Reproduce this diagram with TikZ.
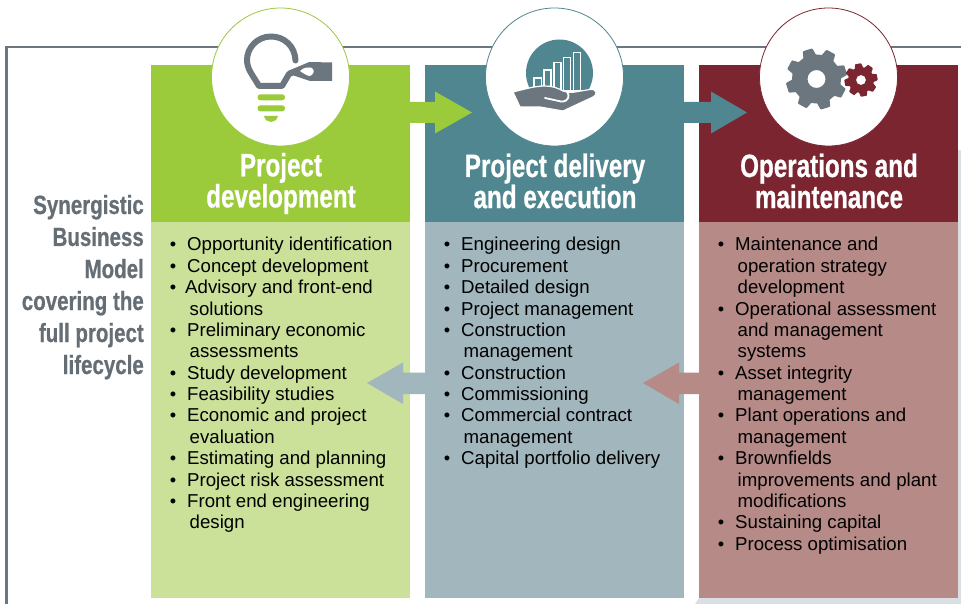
\documentclass[tikz,border=0pt]{standalone}
\usepackage{fontspec}
\setmainfont{Liberation Sans}
\newfontfamily\condfont{Liberation Sans Bold}[FakeStretch=0.75,FakeBold=0.6]
\newfontfamily\sidefont{Liberation Sans Bold}[FakeStretch=0.78,FakeBold=0.5]
\definecolor{cgreen}{HTML}{9BCA3B}
\definecolor{cteal}{HTML}{508690}
\definecolor{cmaroon}{HTML}{7B2530}
\definecolor{lgreen}{HTML}{CBE098}
\definecolor{lteal}{HTML}{A2B6BD}
\definecolor{lmaroon}{HTML}{B58A87}
\definecolor{cgrey}{HTML}{6C767E}
\definecolor{txtgrey}{HTML}{666E75}
\definecolor{strip}{HTML}{D9DFE2}
\tikzset{
 head/.style={fill=#1,draw=none,minimum width=259,minimum height=157,anchor=north west,inner sep=0},
 body/.style={fill=#1,draw=none,minimum width=259,minimum height=376,anchor=north west,inner sep=0},
 ring/.style={circle,fill=white,draw=#1,line width=.8,minimum size=138,inner sep=0},
 title/.style={text=white,font=\condfont\fontsize{32.3}{29}\selectfont,align=center,anchor=center},
 li/.style={anchor=base west,inner sep=0,font=\fontsize{18.65}{20}\selectfont,text=black},
 dot/.style={anchor=base,inner sep=0,font=\fontsize{18.2}{20}\selectfont,text=black},
 side/.style={anchor=base east,inner sep=0,text=txtgrey,font=\sidefont\fontsize{26.3}{30}\selectfont},
}
\newcommand{\bul}[3]{\node[dot] at (#1+3,#2) {•};\node[li] at (#1+17,#2) {#3};}
\newcommand{\cont}[3]{\node[li] at (#1+19.5,#2) {#3};}
\begin{document}
\begin{tikzpicture}[x=1pt,y=-1pt]
\useasboundingbox (0,0) rectangle (961,604);
\fill[white] (0,0) rectangle (961,604);
% frame
\draw[cgrey,line width=2.8] (6.5,604) -- (6.5,47) -- (961,47);
\fill[strip] (695,604) -- (699,598) -- (961,598) -- (961,604) -- cycle;
\fill[strip] (958,150) rectangle (961,598);
% panels
\node[head=cgreen] (h1) at (151,65) {};
\node[head=cteal] (h2) at (425,65) {};
\node[head=cmaroon] (h3) at (699,65) {};
\node[body=lgreen] (b1) at (151,222) {};
\node[body=lteal] (b2) at (425,222) {};
\node[body=lmaroon] (b3) at (699,222) {};
% arrows
\fill[cgreen] (410,102) -- (435,102) -- (435,91.5) -- (472,112.5) -- (435,133.5) -- (435,123) -- (410,123) -- cycle;
\fill[cteal] (684,102) -- (711,102) -- (711,91.5) -- (747,112.5) -- (711,133.5) -- (711,123) -- (684,123) -- cycle;
\fill[lteal] (425,372.5) -- (403,372.5) -- (403,362.5) -- (367,383) -- (403,404) -- (403,394) -- (425,394) -- cycle;
\fill[lmaroon] (699,372.5) -- (679,372.5) -- (679,362.5) -- (643,383) -- (679,404) -- (679,394) -- (699,394) -- cycle;
% circles
\node[ring=cgreen] (c1) at (280.5,77) {};
\node[ring=cteal] (c2) at (554.5,77) {};
\node[ring=cmaroon] (c3) at (828.5,77) {};
% bulb icon
\draw[cgrey,line width=6,line cap=round,line join=round] (295.5,60.5) .. controls (295,46) and (284,36.5) .. (271,36.5) .. controls (257,36.5) and (247,48) .. (247,60) .. controls (247,69) and (252,74) .. (259,86) -- (282,86) -- (289,74) -- (310,65);
\fill[cgrey] (288,71) -- (310,62) -- (332,62.5) -- (332,81) -- (310,81) -- (292,75) -- cycle;
\fill[white] (300,71) .. controls (304,67) and (309,67) .. (312,68) .. controls (315,71) and (314,74) .. (310,76) .. controls (307,76) and (303,73) .. (300,71) -- cycle;
\fill[cgreen,rounded corners=2.8] (257.5,94.3) rectangle (285,100.3);
\fill[cgreen,rounded corners=2.8] (257.5,105.3) rectangle (285,111.3);
\fill[cgreen] (264,116) -- (278,116) .. controls (277,120) and (274,122) .. (271,122) .. controls (268,122) and (265,120) .. (264,116) -- cycle;
% hand icon
\fill[cteal] (559.5,73) circle (33.5);
\foreach \xa/\ya/\xb in {534/78/541.5, 544/70/551, 554/62.5/561, 563.5/57.5/570.5, 573.5/52.5/580.5}{
 \draw[white,line width=1.5,fill=cteal] (\xa,91) rectangle (\xb,\ya);
}
\fill[white] (520,90) rectangle (600,115);
\draw[white,line width=1.2,fill=cgrey,line join=round] (513,92) .. controls (525,89) and (535,86) .. (545,86) .. controls (552,86) and (558,88) .. (563,91) .. controls (567,92) and (570,93) .. (575,92) -- (590,89.5) .. controls (597,88.5) and (598,95) .. (593,97) -- (563,111) -- (540,107) -- (520,107) -- cycle;
\draw[white,line width=1.8,line cap=round] (545,98) -- (561,101.5) .. controls (569,102) and (570,95) .. (567,92);
% gears
\foreach \a in {0,45,...,315}{\fill[cgrey,rounded corners=.8,rotate around={\a+17:(816.5,79)}] (811.5,48.5) -- (821.5,48.5) -- (824,60) -- (809,60) -- cycle;}
\fill[cgrey,even odd rule] (816.5,79) circle (24.5) circle (9);
\foreach \a in {0,45,...,315}{\fill[cmaroon,rounded corners=.6,rotate around={\a+10:(861,80)}] (858,63.5) -- (864,63.5) -- (866,71) -- (856,71) -- cycle;}
\fill[cmaroon,even odd rule] (861,80) circle (13) circle (5);
% titles
\node[title] (t1) at (281,183.5) {Project\\development};
\node[title] (t2) at (555,181) {Project delivery\\and execution};
\node[title] (t3) at (829,181) {Operations and\\maintenance};
% side
\node[side] at (144,214) {Synergistic};
\node[side] at (144,246) {Business};
\node[side] at (144,278) {Model};
\node[side] at (144,310) {covering the};
\node[side] at (144,342) {full project};
\node[side] at (144,374) {lifecycle};
% list 1
\bul{170}{251}{Opportunity identification}
\bul{170}{272}{Concept development}
\node[dot] at (173,293.5) {•};\node[li] at (185,293.5) {Advisory and front-end};
\cont{170}{315}{solutions}
\bul{170}{336.5}{Preliminary economic}
\cont{170}{357}{assessments}
\bul{170}{379}{Study development}
\bul{170}{400}{Feasibility studies}
\bul{170}{421.5}{Economic and project}
\cont{170}{443}{evaluation}
\bul{170}{464}{Estimating and planning}
\bul{170}{486}{Project risk assessment}
\bul{170}{507}{Front end engineering}
\cont{170}{528}{design}
% list 2
\bul{444}{251}{Engineering design}
\bul{444}{272}{Procurement}
\bul{444}{293.5}{Detailed design}
\bul{444}{315}{Project management}
\bul{444}{336.5}{Construction}
\cont{444}{357}{management}
\bul{444}{379}{Construction}
\bul{444}{400}{Commissioning}
\bul{444}{421.5}{Commercial contract}
\cont{444}{443}{management}
\bul{444}{464}{Capital portfolio delivery}
% list 3
\bul{718}{251}{Maintenance and}
\cont{718}{272}{operation strategy}
\cont{718}{293.5}{development}
\bul{718}{315}{Operational assessment}
\cont{718}{336.5}{and management}
\cont{718}{357}{systems}
\bul{718}{379}{Asset integrity}
\cont{718}{400}{management}
\bul{718}{421.5}{Plant operations and}
\cont{718}{443}{management}
\bul{718}{464}{Brownfields}
\cont{718}{486}{improvements and plant}
\cont{718}{507}{modifications}
\bul{718}{528}{Sustaining capital}
\bul{718}{550}{Process optimisation}
\end{tikzpicture}
\end{document}
